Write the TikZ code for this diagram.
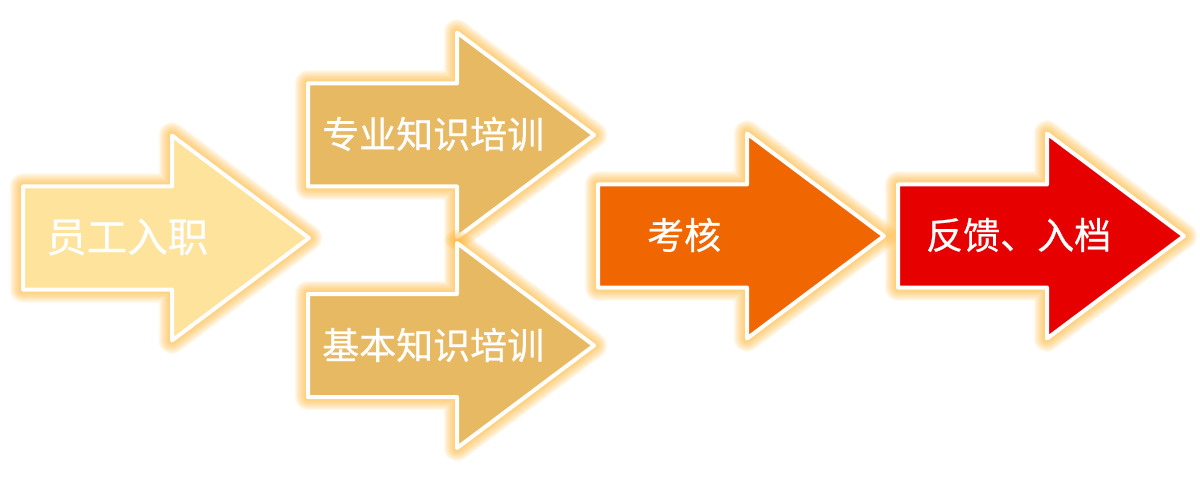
\documentclass[tikz,border=0pt]{standalone}
\usepackage{fontspec}
\setmainfont[FakeBold=0.6]{Noto Sans CJK SC}
\newfontfamily\lblfont[FakeBold=0.6]{Noto Sans CJK SC}
\definecolor{cA}{RGB}{254,227,156}
\definecolor{cB}{RGB}{232,185,99}
\definecolor{cC}{RGB}{240,102,0}
\definecolor{cD}{RGB}{230,0,0}
\definecolor{glowc}{RGB}{255,176,40}
\newcommand\arrowshape[2]{(#1,{#2-51.5}) -- ({#1+149},{#2-51.5}) -- ({#1+149},{#2-102.5}) -- ({#1+286},#2) -- ({#1+149},{#2+102.5}) -- ({#1+149},{#2+51.5}) -- (#1,{#2+51.5}) -- cycle}
\newcommand\glowarrow[3]{%
  \foreach \k in {1,...,12}{\draw[glowlayer, line width={4+1.9*\k}] \arrowshape{#1}{#2};}
  \draw[arrowbody=#3] \arrowshape{#1}{#2};}
\tikzset{
  glowlayer/.style={draw=glowc, opacity=0.07, line join=round},
  arrowbody/.style={fill=#1, draw=white, line width=4pt, line join=round},
  lbl/.style={text=white, anchor=west, inner sep=0pt, font=\lblfont\fontsize{37}{40}\selectfont}
}
\begin{document}
\begin{tikzpicture}[x=1pt,y=-1pt]
\path[use as bounding box] (0,0) rectangle (1200,500);
\glowarrow{23}{238}{cA}
\glowarrow{308}{135}{cB}
\glowarrow{308}{345.5}{cB}
\glowarrow{598}{236}{cC}
\glowarrow{898}{236}{cD}
\node[lbl, font=\lblfont\fontsize{40.5}{44}\selectfont] (t1) at (46,237) {员工入职};
\node[lbl] (t2) at (322,134) {专业知识培训};
\node[lbl] (t3) at (322,345) {基本知识培训};
\node[lbl] (t4) at (647,235) {考核};
\node[lbl] (t5) at (926,235) {反馈、入档};
\end{tikzpicture}
\end{document}
